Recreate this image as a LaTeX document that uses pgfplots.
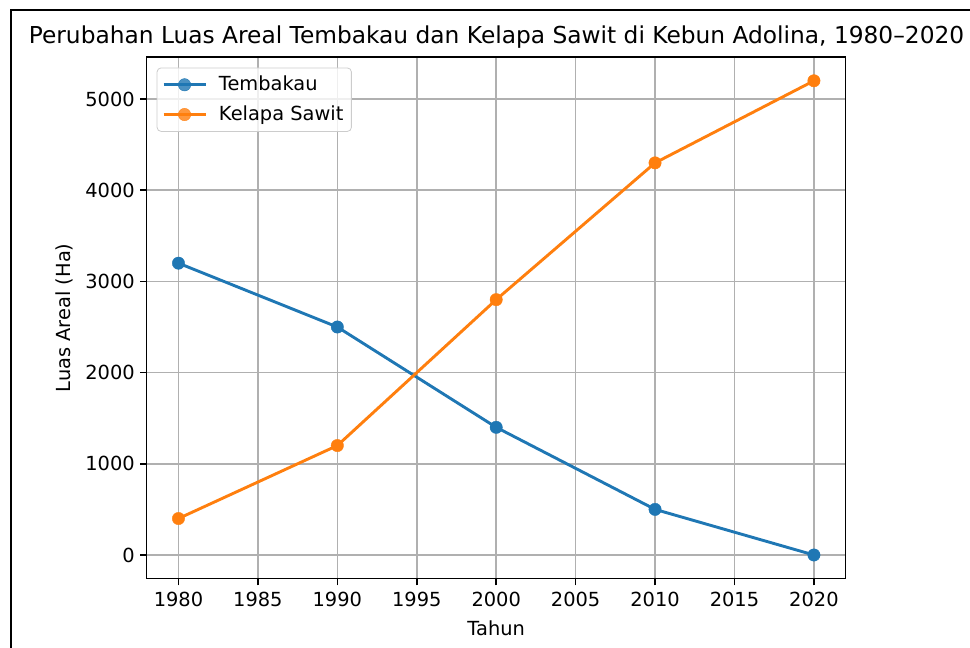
\documentclass[border=0pt]{standalone}
\usepackage{fontspec}
\setmainfont{DejaVu Sans}
\usepackage{pgfplots}
\pgfplotsset{compat=1.18}
\definecolor{cA}{HTML}{1F77B4}
\definecolor{cB}{HTML}{FF7F0E}
\definecolor{gridc}{HTML}{B0B0B0}
\begin{document}
\begin{tikzpicture}
\useasboundingbox (0,0) rectangle (485pt,324pt);
\draw[line width=1pt] (5.5pt,-5pt) -- (5.5pt,319pt) -- (500pt,319pt);
\begin{axis}[
  at={(73.35pt,34.65pt)}, anchor=south west,
  scale only axis, width=349.5pt, height=260.8pt,
  xmin=1978, xmax=2022, ymin=-260, ymax=5460,
  xtick={1980,1985,...,2020}, ytick={0,1000,...,5000},
  xtick pos=bottom, ytick pos=left,
  /pgf/number format/1000 sep={},
  /pgf/number format/assume math mode=true,
  ticklabel style={font=\fontsize{9.7}{11}\selectfont, text=black},
  yticklabel style={inner sep=2.5pt},
  grid=major, grid style={color=gridc, line width=0.75pt},
  tick align=outside, major tick length=3.3pt,
  tick style={black, line width=0.75pt},
  axis line style={line width=0.75pt},
  xlabel={Tahun}, ylabel={Luas Areal (Ha)},
  label style={font=\fontsize{9.7}{11}\selectfont, text=black},
  xlabel style={at={(axis description cs:0.5,-0.0945)}, anchor=center},
  ylabel style={at={(axis description cs:-0.1183,0.5)}, anchor=center, rotate=0},
  legend style={at={(rel axis cs:0.0143,0.980)}, anchor=north west,
    draw=black!20, rounded corners=2pt, fill=white, fill opacity=0.8, text opacity=1,
    font=\fontsize{9.7}{11}\selectfont, text=black,
    inner xsep=2.5pt, inner ysep=2.5pt, row sep=3pt,
    nodes={inner sep=1.5pt}},
  legend cell align=left,
  legend image code/.code={\draw[mark repeat=2,mark phase=2,#1] plot coordinates {(0pt,0pt) (10.5pt,0pt) (21pt,0pt)};},
  /tikz/every odd column/.append style={column sep=4.5pt},
]
\addplot[color=cA, line width=1.45pt, mark=*, mark size=3.1pt, mark options={line width=0.2pt}] coordinates {
  (1980,3200) (1990,2500) (2000,1400) (2010,500) (2020,0)};
\addlegendentry{Tembakau}
\addplot[color=cB, line width=1.45pt, mark=*, mark size=3.1pt, mark options={line width=0.2pt}] coordinates {
  (1980,400) (1990,1200) (2000,2800) (2010,4300) (2020,5200)};
\addlegendentry{Kelapa Sawit}
\end{axis}
\node[anchor=base, font=\fontsize{11.65}{14}\selectfont, text=black] at (248.25pt,302.3pt) {Perubahan Luas Areal Tembakau dan Kelapa Sawit di Kebun Adolina, 1980–2020};
\end{tikzpicture}
\end{document}
